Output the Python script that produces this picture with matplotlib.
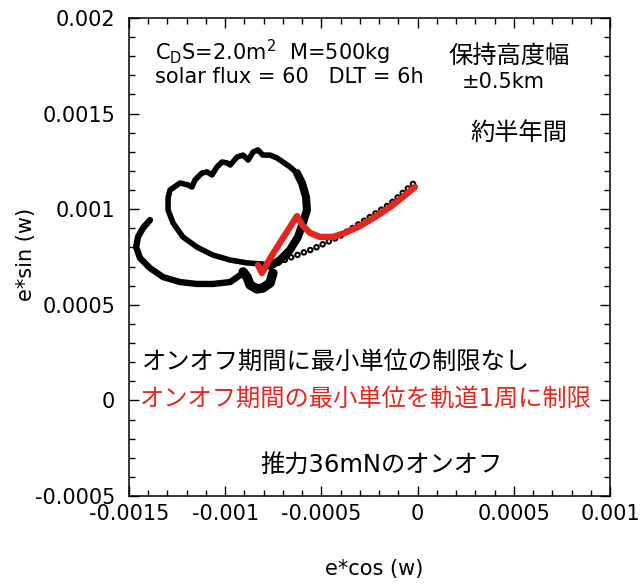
import matplotlib
matplotlib.use('Agg')
import matplotlib.pyplot as plt
from matplotlib.ticker import MultipleLocator, FuncFormatter

plt.rcParams['font.family'] = ['DejaVu Sans', 'Noto Sans CJK JP']
plt.rcParams['mathtext.default'] = 'regular'
plt.rcParams['lines.scale_dashes'] = False
plt.rcParams['axes.unicode_minus'] = False

# black: thrust on/off with no minimum unit
drift_x = [-0.000024, -0.000143, -0.000263, -0.000403, -0.000544, -0.000679, -0.000752]
drift_y = [0.001132, 0.001027, 0.000949, 0.000860, 0.000792, 0.000740, 0.000708]

loop_x = [-0.000767, -0.000715, -0.000663, -0.000622, -0.000596, -0.000575, -0.000580,
          -0.000601, -0.000627, -0.000663, -0.000700, -0.000731, -0.000767, -0.000804,
          -0.000830, -0.000855, -0.000881, -0.000907, -0.000938, -0.000974, -0.000990,
          -0.001016, -0.001043, -0.001069, -0.001095, -0.001121, -0.001157, -0.001173,
          -0.001194, -0.001235, -0.001287, -0.001297, -0.001297, -0.001271, -0.001220,
          -0.001147, -0.001064, -0.000974, -0.000886, -0.000804, -0.000767]
loop_y = [0.000703, 0.000734, 0.000787, 0.000855, 0.000928, 0.000996, 0.001064,
          0.001137, 0.001189, 0.001221, 0.001247, 0.001268, 0.001283, 0.001283,
          0.001310, 0.001299, 0.001257, 0.001283, 0.001273, 0.001231, 0.001242,
          0.001247, 0.001221, 0.001179, 0.001195, 0.001189, 0.001153, 0.001116,
          0.001127, 0.001137, 0.001100, 0.001059, 0.000996, 0.000928, 0.000855,
          0.000802, 0.000760, 0.000734, 0.000719, 0.000713, 0.000703]

hook_x = [-0.000752, -0.000767, -0.000804, -0.000835, -0.000871, -0.000886, -0.000907]
hook_y = [0.000666, 0.000614, 0.000588, 0.000583, 0.000604, 0.000645, 0.000672]

arc_x = [-0.000907, -0.000974, -0.001064, -0.001147, -0.001235, -0.001323, -0.001391,
         -0.001443, -0.001463, -0.001453, -0.001427, -0.001391]
arc_y = [0.000666, 0.000619, 0.000609, 0.000609, 0.000619, 0.000645, 0.000692,
         0.000745, 0.000802, 0.000855, 0.000902, 0.000943]

# red: minimum on/off unit limited to one orbit
red_x = [-0.000014, -0.000076, -0.000143, -0.000221, -0.000299, -0.000377, -0.000440,
         -0.000507, -0.000559, -0.000596, -0.000627, -0.000663, -0.000700, -0.000736,
         -0.000772, -0.000809, -0.000830]
red_y = [0.001116, 0.001064, 0.001011, 0.000959, 0.000912, 0.000876, 0.000855,
         0.000855, 0.000876, 0.000912, 0.000964, 0.000907, 0.000849, 0.000792,
         0.000734, 0.000666, 0.000708]

RED = '#e52620'

fig = plt.figure(figsize=(6.42, 5.85), dpi=100)
ax = fig.add_axes([129/642, 89/585, 481/642, 478/585])

# chain of hollow beads for the sparse part
bead = (0, (0.01, 4.9))
ax.plot(drift_x, drift_y, color='k', lw=4.8, linestyle=bead, dash_capstyle='round')
ax.plot(drift_x, drift_y, color='white', lw=1.8, linestyle=bead, dash_capstyle='round')

ax.plot(loop_x, loop_y, color='k', lw=4.0, solid_capstyle='round', solid_joinstyle='round')
ax.plot(loop_x[:9], loop_y[:9], color='k', lw=5.8, solid_capstyle='round', solid_joinstyle='round')
ax.plot(hook_x, hook_y, color='k', lw=6.8, solid_capstyle='round', solid_joinstyle='round')
ax.plot(arc_x, arc_y, color='k', lw=4.6, solid_capstyle='round', solid_joinstyle='round')

ax.plot(red_x, red_y, color=RED, lw=4.6, solid_capstyle='round', solid_joinstyle='round')

ax.set_xlim(-0.0015, 0.001)
ax.set_ylim(-0.0005, 0.002)
ax.xaxis.set_major_locator(MultipleLocator(0.0005))
ax.xaxis.set_minor_locator(MultipleLocator(0.0001))
ax.yaxis.set_major_locator(MultipleLocator(0.0005))
ax.yaxis.set_minor_locator(MultipleLocator(0.0001))

def fmt(v, pos):
    if abs(v) < 1e-12:
        return '0'
    return ('%.4f' % v).rstrip('0')

ax.xaxis.set_major_formatter(FuncFormatter(fmt))
ax.yaxis.set_major_formatter(FuncFormatter(fmt))
ax.tick_params(which='both', direction='in', top=True, right=True, width=1, labelsize=15)
ax.tick_params(which='major', length=7)
ax.tick_params(which='minor', length=4)
ax.tick_params(axis='x', pad=6)
ax.tick_params(axis='y', pad=10)
for s in ax.spines.values():
    s.set_linewidth(1.1)

fig.text(374/642, 1 - 569/585, 'e*cos (w)', fontsize=15, ha='center', va='center')
fig.text(26/642, 1 - 254/585, 'e*sin (w)', fontsize=15, ha='center', va='center', rotation=90)

tr = ax.transAxes
ax.text(0.054, 0.929, r'C$_{D}$S=2.0m$^{2}$  M=500kg', fontsize=15, transform=tr, va='center')
ax.text(0.054, 0.877, 'solar flux = 60   DLT = 6h', fontsize=15, transform=tr, va='center')
ax.text(0.663, 0.921, '保持高度幅', fontsize=17.5, transform=tr, va='center')
ax.text(0.692, 0.866, '±0.5km', fontsize=15, transform=tr, va='center')
ax.text(0.709, 0.759, '約半年間', fontsize=17.5, transform=tr, va='center')
ax.text(0.027, 0.280, 'オンオフ期間に最小単位の制限なし', fontsize=17.5, transform=tr, va='center')
ax.text(0.023, 0.203, 'オンオフ期間の最小単位を軌道1周に制限', fontsize=17.5, color=RED,
        transform=tr, va='center')
ax.text(0.272, 0.063, '推力36mNのオンオフ', fontsize=17.5, transform=tr, va='center')

fig.savefig('out.png', dpi=100)
